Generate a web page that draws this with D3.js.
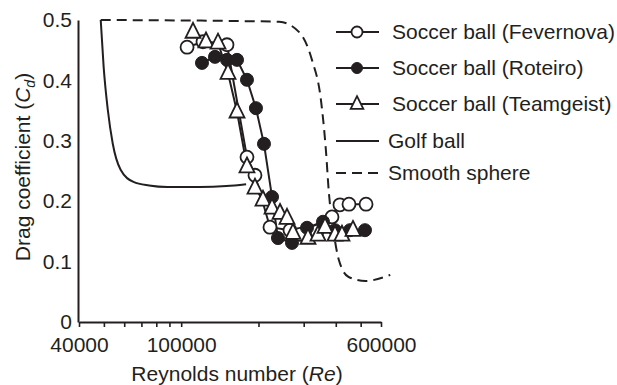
<!DOCTYPE html>
<html>
<head>
<meta charset="utf-8">
<script src="https://cdn.jsdelivr.net/npm/d3@7"></script>
<style>
  html, body { margin: 0; padding: 0; background: #fff; }
  svg text { font-family: "Liberation Sans", Arial, Helvetica, sans-serif; fill: #231f20; }
</style>
</head>
<body>
<svg id="chart" width="617" height="385"></svg>
<script>
// Drag coefficient vs Reynolds number for three soccer balls, a golf ball and a smooth sphere
const fevernovaRe = [105400, 121600, 150800, 180400, 193800, 221700, 265300, 290200, 338000, 386600, 415200, 450300, 524700];
const fevernovaCd = [0.455, 0.464, 0.459, 0.273, 0.243, 0.157, 0.152, 0.145, 0.150, 0.174, 0.194, 0.195, 0.195];

const roteiroRe = [120500, 135400, 150800, 165000, 180400, 195500, 210100, 225800, 238200, 270100, 309000, 356700, 397200, 454300, 519700];
const roteiroCd = [0.429, 0.439, 0.434, 0.434, 0.401, 0.354, 0.295, 0.207, 0.139, 0.131, 0.156, 0.166, 0.152, 0.152, 0.152];

const teamgeistRe = [111200, 124900, 139100, 152200, 165000, 180400, 193800, 208200, 225800, 242600, 258300, 272500, 311800, 341000, 363200, 397200, 422800, 466700];
const teamgeistCd = [0.480, 0.464, 0.462, 0.412, 0.348, 0.257, 0.222, 0.202, 0.189, 0.180, 0.172, 0.147, 0.139, 0.144, 0.157, 0.144, 0.144, 0.152];

const golfRe = [48600, 49900, 51800, 54100, 58100, 65200, 75000, 88300, 118000, 150000, 179000];
const golfCd = [0.500, 0.422, 0.351, 0.296, 0.252, 0.232, 0.226, 0.2235, 0.2235, 0.225, 0.228];

const sphereRe = [48600, 184000, 241000, 288000, 323000, 350000, 366000, 376000, 393000, 411000, 449000, 522000, 652000];
const sphereCd = [0.500, 0.498, 0.497, 0.480, 0.434, 0.368, 0.285, 0.214, 0.147, 0.103, 0.0745, 0.068, 0.078];

const xTickValues = [40000, 50000, 60000, 70000, 80000, 90000, 100000, 200000, 300000, 400000, 500000, 600000];
const xTickLabels = ["40000", "100000", "600000"];
const yTickValues = [0, 0.1, 0.2, 0.3, 0.4, 0.5];

const legendNames = ["Soccer ball (Fevernova)", "Soccer ball (Roteiro)", "Soccer ball (Teamgeist)", "Golf ball", "Smooth sphere"];

const ink = "#231f20";
const fontSize = 21;
const svg = d3.select("#chart");

const x = d3.scaleLog().domain([40000, 600000]).range([79, 381]);
const y = d3.scaleLinear().domain([0, 0.5]).range([322, 20]);

const zip = (a, b) => a.map((v, i) => [v, b[i]]);

// axes
const xAxis = d3.axisBottom(x)
  .tickValues(xTickValues)
  .tickSize(5)
  .tickSizeOuter(0)
  .tickFormat(d => xTickLabels.includes(String(d)) ? String(d) : "");
const gx = svg.append("g").attr("transform", `translate(0,${y(0)})`).call(xAxis);
gx.select(".domain").attr("stroke", ink).attr("stroke-width", 2);
gx.selectAll(".tick line").attr("stroke", ink).attr("stroke-width", 1.6);
gx.selectAll(".tick text").attr("font-size", fontSize).attr("y", 15).attr("fill", ink);

const yAxis = d3.axisLeft(y).tickValues(yTickValues).tickSize(0).tickPadding(6)
  .tickFormat(d => d === 0 ? "0" : d3.format(".1f")(d));
const gy = svg.append("g").attr("transform", `translate(${x(40000) - 1},0)`).call(yAxis);
gy.select(".domain").attr("stroke", ink).attr("stroke-width", 2);
gy.selectAll(".tick text").attr("font-size", fontSize).attr("fill", ink);

// axis titles
const xt = svg.append("text").attr("x", 237).attr("y", 381).attr("text-anchor", "middle").attr("font-size", fontSize);
xt.append("tspan").text("Reynolds number (");
xt.append("tspan").attr("font-style", "italic").text("Re");
xt.append("tspan").text(")");

const yt = svg.append("text").attr("transform", "translate(30,167) rotate(-90)").attr("text-anchor", "middle").attr("font-size", fontSize);
yt.append("tspan").text("Drag coefficient (");
yt.append("tspan").attr("font-style", "italic").text("C");
yt.append("tspan").attr("font-style", "italic").attr("font-size", 14).attr("dy", 5).text("d");
yt.append("tspan").attr("dy", -5).text(")");

// reference curves
const smoothLine = d3.line().x(d => x(d[0])).y(d => y(d[1])).curve(d3.curveMonotoneX);
svg.append("path").datum(zip(sphereRe, sphereCd))
  .attr("d", smoothLine).attr("fill", "none").attr("stroke", ink)
  .attr("stroke-width", 2).attr("stroke-dasharray", "10,6");
svg.append("path").datum(zip(golfRe, golfCd))
  .attr("d", smoothLine).attr("fill", "none").attr("stroke", ink).attr("stroke-width", 2);

// soccer ball series
const straight = d3.line().x(d => x(d[0])).y(d => y(d[1]));
const triPath = s => `M0,${-s * 0.62}L${s / 2},${s * 0.38}L${-s / 2},${s * 0.38}Z`;

function drawMarker(g, kind, size) {
  if (kind === "open") {
    g.append("circle").attr("r", size).attr("fill", "#fff").attr("stroke", ink).attr("stroke-width", 1.8);
  } else if (kind === "filled") {
    g.append("circle").attr("r", size).attr("fill", ink).attr("stroke", ink).attr("stroke-width", 1);
  } else {
    g.append("path").attr("d", triPath(size * 2.3)).attr("fill", "#fff").attr("stroke", ink).attr("stroke-width", 1.8);
  }
}

const series = [
  { re: fevernovaRe, cd: fevernovaCd, kind: "open" },
  { re: roteiroRe, cd: roteiroCd, kind: "filled" },
  { re: teamgeistRe, cd: teamgeistCd, kind: "tri" }
];

series.forEach(s => {
  svg.append("path").datum(zip(s.re, s.cd)).attr("d", straight)
    .attr("fill", "none").attr("stroke", ink).attr("stroke-width", 2);
});
series.forEach(s => {
  zip(s.re, s.cd).forEach(p => {
    const g = svg.append("g").attr("transform", `translate(${x(p[0])},${y(p[1])})`);
    drawMarker(g, s.kind, 6.5);
  });
});

// legend
const legendRows = [32, 68, 104, 141, 173];
const lg = svg.append("g");
legendNames.forEach((name, i) => {
  const ry = legendRows[i];
  const line = lg.append("line").attr("x1", 336).attr("x2", 379).attr("y1", ry).attr("y2", ry)
    .attr("stroke", ink).attr("stroke-width", 2);
  if (i === 4) line.attr("stroke-dasharray", "10,6");
  if (i < 3) {
    const g = lg.append("g").attr("transform", `translate(357,${ry})`);
    drawMarker(g, series[i].kind, 5.5);
  }
  lg.append("text").attr("x", i < 3 ? 392 : 388).attr("y", ry).attr("dy", "0.35em")
    .attr("font-size", fontSize).text(name);
});
</script>
</body>
</html>
